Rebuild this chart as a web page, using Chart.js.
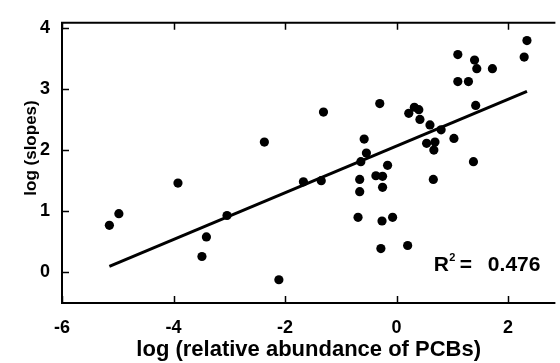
<!DOCTYPE html>
<html>
<head>
<meta charset="utf-8">
<script src="https://cdn.jsdelivr.net/npm/chart.js@4/dist/chart.umd.min.js"></script>
<style>
  html, body { margin: 0; padding: 0; background: #fff; overflow: hidden; }
  #wrap { width: 560px; height: 363px; }
</style>
</head>
<body>
<div id="wrap"><canvas id="chart" width="560" height="363"></canvas></div>
<script>
// Messpunkte: log (relative abundance of PCBs) gegen log (slopes)
const logAbundance = [
  -5.15, -4.98, -3.92, -3.41, -3.49, -3.04, -2.11, -2.37, -1.67, -1.35,
  -1.31, -0.30, 0.22, 0.32, 0.40, 0.42, 0.60, 0.54, 0.69, 0.67,
  0.80, -0.58, -0.54, -0.64, -0.16, -0.66, -0.37, -0.25, -0.66, -0.25,
  -0.69, -0.26, -0.07, -0.28, 0.20, 0.66, 1.03, 1.38, 1.42, 1.10,
  1.29, 1.10, 1.40, 1.44, 1.72, 2.29, 2.34
];
const logSlopes = [
  0.77, 0.96, 1.46, 0.58, 0.26, 0.93, -0.12, 2.13, 1.48, 1.50,
  2.62, 2.76, 2.60, 2.70, 2.66, 2.50, 2.41, 2.11, 2.13, 2.00,
  2.33, 2.18, 1.95, 1.81, 1.75, 1.52, 1.58, 1.57, 1.32, 1.39,
  0.90, 0.84, 0.90, 0.39, 0.44, 1.52, 2.19, 1.81, 2.73, 3.12,
  3.12, 3.56, 3.47, 3.33, 3.33, 3.52, 3.79
];

// Regressionsgerade (Endpunkte)
const fitX = [-5.15, 2.34];
const fitY = [0.10, 2.96];

// Achsenbeschriftung
const xTicks = [-6, -4, -2, 0, 2];
const yTicks = [0, 1, 2, 3, 4];
const rSquared = "0.476";

const FONT = "'Liberation Sans', Arial, sans-serif";

// Rahmen, nach innen zeigende Ticks, y-Titel und R²-Text zeichnen
const framePlugin = {
  id: "frame",
  afterDraw(chart) {
    const { ctx, chartArea: a, scales } = chart;
    const x = scales.x;
    const y = scales.y;
    ctx.save();
    ctx.strokeStyle = "#000";
    ctx.lineWidth = 2;
    ctx.beginPath();
    ctx.moveTo(a.right, a.top);
    ctx.lineTo(a.left, a.top);
    ctx.lineTo(a.left, a.bottom);
    ctx.lineTo(a.right, a.bottom);
    ctx.stroke();

    ctx.lineWidth = 1.5;
    ctx.beginPath();
    xTicks.forEach((v) => {
      const px = Math.round(x.getPixelForValue(v)) + 0.5;
      ctx.moveTo(px, a.bottom);
      ctx.lineTo(px, a.bottom - 7);
      ctx.moveTo(px, a.top);
      ctx.lineTo(px, a.top + 7);
    });
    yTicks.forEach((v) => {
      const py = Math.round(y.getPixelForValue(v)) + 0.5;
      ctx.moveTo(a.left, py);
      ctx.lineTo(a.left + 7, py);
    });
    ctx.stroke();

    // y-Achsentitel
    ctx.fillStyle = "#000";
    ctx.font = "bold 17px " + FONT;
    ctx.textAlign = "center";
    ctx.textBaseline = "middle";
    ctx.translate(31, 148);
    ctx.rotate(-Math.PI / 2);
    ctx.fillText("log (slopes)", 0, 0);
    ctx.restore();

    // R² = 0.476
    ctx.save();
    ctx.fillStyle = "#000";
    ctx.textBaseline = "middle";
    ctx.textAlign = "left";
    const tx = x.getPixelForValue(0.67);
    const ty = y.getPixelForValue(0.12);
    ctx.font = "bold 21px " + FONT;
    ctx.fillText("R", tx, ty);
    ctx.font = "bold 11px " + FONT;
    ctx.fillText("2", tx + 15.5, ty - 7);
    ctx.font = "bold 21px " + FONT;
    ctx.fillText("=", tx + 26, ty);
    ctx.fillText(rSquared, tx + 54, ty);
    ctx.restore();
  },
};

const ctx = document.getElementById("chart").getContext("2d");

new Chart(ctx, {
  data: {
    datasets: [
      {
        type: "scatter",
        data: logAbundance.map((v, i) => ({ x: v, y: logSlopes[i] })),
        backgroundColor: "#000",
        borderColor: "#000",
        pointRadius: 4.6,
        pointHoverRadius: 4.6,
        borderWidth: 0,
      },
      {
        type: "line",
        data: fitX.map((v, i) => ({ x: v, y: fitY[i] })),
        borderColor: "#000",
        borderWidth: 3,
        pointRadius: 0,
        fill: false,
      },
    ],
  },
  options: {
    responsive: false,
    animation: false,
    layout: { padding: { top: 16, right: 0, bottom: 0, left: 0 } },
    plugins: {
      legend: { display: false },
      tooltip: { enabled: false },
    },
    scales: {
      x: {
        type: "linear",
        min: -6,
        max: 2.85,
        afterBuildTicks: (s) => { s.ticks = xTicks.map((v) => ({ value: v })); },
        afterFit: (s) => { s.height = 60; },
        grid: { display: false, drawTicks: false },
        border: { display: false },
        ticks: { color: "#000", padding: 14, font: { family: FONT, size: 18, weight: "bold" } },
        title: {
          display: true,
          text: "log (relative abundance of PCBs)",
          color: "#000",
          padding: { top: 0, bottom: 2 },
          font: { family: FONT, size: 22, weight: "bold", lineHeight: 1 },
        },
      },
      y: {
        type: "linear",
        min: -0.5,
        max: 4.08,
        afterBuildTicks: (s) => { s.ticks = yTicks.map((v) => ({ value: v })); },
        afterFit: (s) => { s.width = 62; },
        grid: { display: false, drawTicks: false },
        border: { display: false },
        ticks: { color: "#000", padding: 12, font: { family: FONT, size: 18, weight: "bold" } },
      },
    },
  },
  plugins: [framePlugin],
});
</script>
</body>
</html>
